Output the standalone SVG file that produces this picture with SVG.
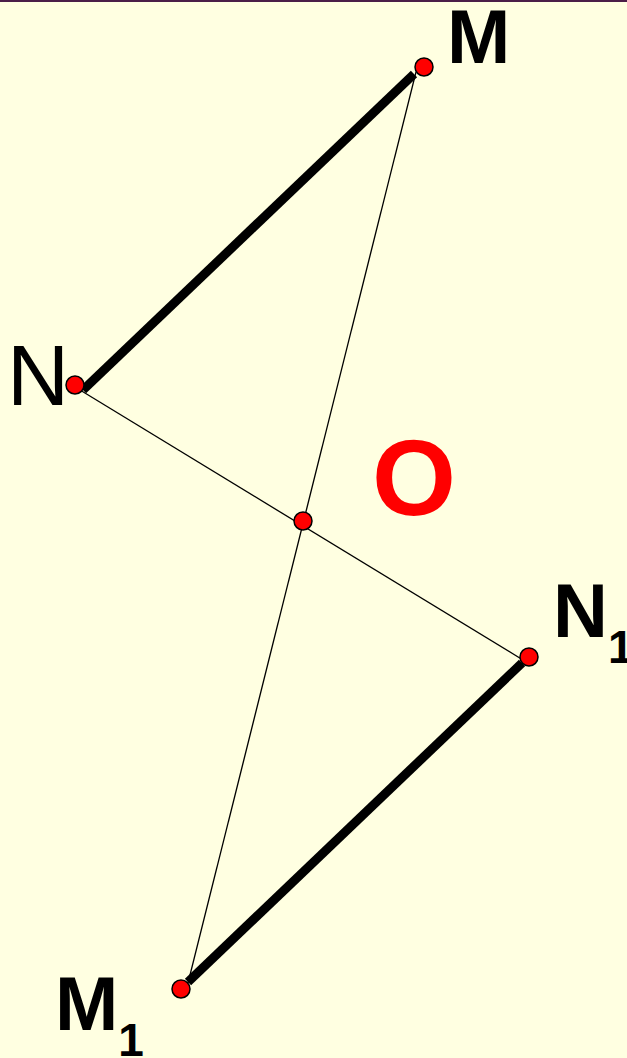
<svg xmlns="http://www.w3.org/2000/svg" width="627" height="1058" viewBox="0 0 627 1058">
<style>
.pt{fill:#FF0000;stroke:#000;stroke-width:1.5}
.thick{stroke:#000;stroke-width:9;fill:none}
.thin{stroke:#000;stroke-width:1.3;fill:none}
.lbl{font-family:"Liberation Sans",Arial,sans-serif;fill:#000}
</style>
<rect x="0" y="0" width="627" height="1058" fill="#FFFFE1"/>
<rect x="0" y="0" width="627" height="2" fill="#4B1E48"/>
<g id="connectors">
<line class="thin" x1="416" y1="72" x2="188" y2="983"/>
<line class="thin" x1="80" y1="390" x2="523" y2="660"/>
<line class="thick" x1="414" y1="74" x2="83" y2="390"/>
<line class="thick" x1="522" y1="663" x2="188" y2="982"/>
</g>
<g id="M"><circle class="pt" cx="424" cy="67" r="9"/><text class="lbl" x="447" y="63" font-size="76" font-weight="bold">M</text></g>
<g id="N"><circle class="pt" cx="75" cy="385" r="9"/><text class="lbl" x="7" y="405" font-size="86">N</text></g>
<g id="O"><circle class="pt" cx="303" cy="521" r="9"/><text x="372" y="515" font-family="Liberation Sans,Arial,sans-serif" font-size="108" font-weight="bold" fill="#FF0000">O</text></g>
<g id="N1"><circle class="pt" cx="529" cy="657" r="9"/><text class="lbl" x="553" y="637" font-size="76" font-weight="bold">N<tspan font-size="46" dy="26">1</tspan></text></g>
<g id="M1"><circle class="pt" cx="181" cy="989" r="9"/><text class="lbl" x="55" y="1030" font-size="76" font-weight="bold">M<tspan font-size="46" dy="26">1</tspan></text></g>
</svg>
